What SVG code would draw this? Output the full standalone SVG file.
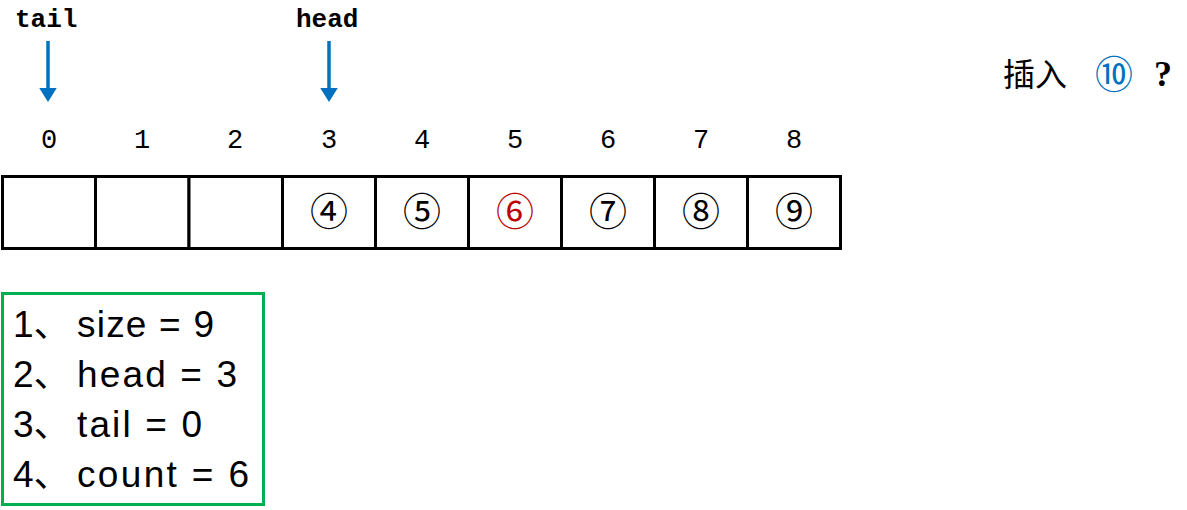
<svg xmlns="http://www.w3.org/2000/svg" width="1187" height="510" viewBox="0 0 1187 510">
<style>
.ptr{font-family:"Liberation Mono",monospace;font-weight:bold;font-size:26px;fill:#000}
.idx{font-family:"Liberation Mono",monospace;font-size:27px;fill:#000;text-anchor:middle}
.circ{font-family:"Liberation Serif","Noto Sans CJK SC",serif;font-size:38px;fill:#000;text-anchor:middle}
.cell{fill:#fff;stroke:#000;stroke-width:3}
.info{font-family:"Liberation Sans","Noto Sans CJK SC",sans-serif;font-size:37px;fill:#000}
.arrow{stroke:#0070C0;stroke-width:3.5;fill:none}
</style>
<defs>
<marker id="ah" markerWidth="5" markerHeight="5" refX="0" refY="2.5" orient="auto" markerUnits="strokeWidth">
<path d="M0,0 L4,2.5 L0,5 Z" fill="#0070C0"/>
</marker>
</defs>
<g id="tail-label"><text class="ptr" x="15" y="27">tail</text></g>
<g id="head-label"><text class="ptr" x="296" y="27">head</text></g>
<g id="connectors">
<line class="arrow" x1="48" y1="41" x2="48" y2="88" marker-end="url(#ah)"/>
<line class="arrow" x1="329" y1="41" x2="329" y2="88" marker-end="url(#ah)"/>
</g>
<g id="indices">
<text class="idx" x="49" y="148">0</text>
<text class="idx" x="142" y="148">1</text>
<text class="idx" x="235" y="148">2</text>
<text class="idx" x="329" y="148">3</text>
<text class="idx" x="422" y="148">4</text>
<text class="idx" x="515" y="148">5</text>
<text class="idx" x="608" y="148">6</text>
<text class="idx" x="701" y="148">7</text>
<text class="idx" x="794" y="148">8</text>
</g>
<g id="array">
<rect class="cell" x="2.5" y="176.5" width="93" height="72"/>
<rect class="cell" x="95.5" y="176.5" width="93.5" height="72"/>
<rect class="cell" x="189" y="176.5" width="93.5" height="72"/>
<rect class="cell" x="282.5" y="176.5" width="93" height="72"/>
<rect class="cell" x="375.5" y="176.5" width="93" height="72"/>
<rect class="cell" x="468.5" y="176.5" width="93" height="72"/>
<rect class="cell" x="561.5" y="176.5" width="93" height="72"/>
<rect class="cell" x="654.5" y="176.5" width="93" height="72"/>
<rect class="cell" x="747.5" y="176.5" width="93" height="72"/>
<text class="circ" x="329" y="225">④</text>
<text class="circ" x="422" y="225">⑤</text>
<text class="circ" x="515" y="225" style="fill:#C00000">⑥</text>
<text class="circ" x="608" y="225">⑦</text>
<text class="circ" x="701" y="225">⑧</text>
<text class="circ" x="794" y="225">⑨</text>
</g>
<g id="insert-question">
<text x="1003" y="86" style="font-family:'Noto Sans CJK SC',serif;font-size:32px;fill:#000">插入</text>
<text x="1114" y="88" style="font-family:'Liberation Serif','Noto Sans CJK SC',serif;font-size:38px;fill:#0070C0;text-anchor:middle">⑩</text>
<text x="1163" y="86" style="font-family:'Liberation Serif',serif;font-size:36px;font-weight:bold;fill:#000;text-anchor:middle">?</text>
</g>
<g id="info-box">
<rect x="2.5" y="293.5" width="261" height="211" fill="none" stroke="#00B050" stroke-width="3"/>
<text class="info" y="337"><tspan x="13">1、</tspan><tspan x="77" textLength="137" lengthAdjust="spacing">size = 9</tspan></text>
<text class="info" y="387"><tspan x="13">2、</tspan><tspan x="77" textLength="160" lengthAdjust="spacing">head = 3</tspan></text>
<text class="info" y="437"><tspan x="13">3、</tspan><tspan x="77" textLength="125" lengthAdjust="spacing">tail = 0</tspan></text>
<text class="info" y="487"><tspan x="13">4、</tspan><tspan x="77" textLength="172" lengthAdjust="spacing">count = 6</tspan></text>
</g>
</svg>
